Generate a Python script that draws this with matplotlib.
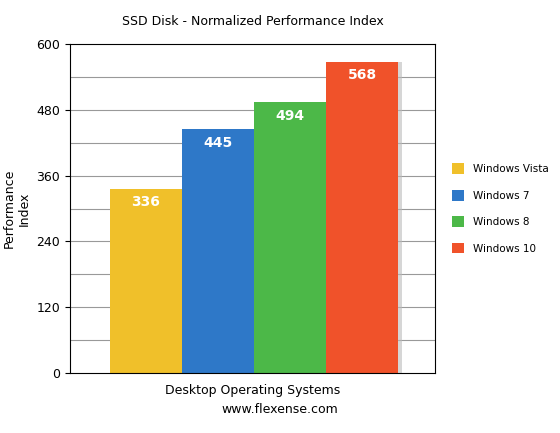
import matplotlib
matplotlib.use("Agg")
import matplotlib.pyplot as plt
from matplotlib.patches import Rectangle

systems = ["Windows Vista", "Windows 7", "Windows 8", "Windows 10"]
values = [336, 445, 494, 568]
colors = ["#F0C02A", "#2E78C8", "#4CB848", "#F0522A"]

fig = plt.figure(figsize=(5.6, 4.33), dpi=100)
ax = fig.add_axes([70/560, 1-373/433, 365/560, 329/433])
ax.set_ylim(0, 600)
ax.set_xlim(-0.5 - 40/72, 3.5 + 37/72)
for y in range(60, 600, 60):
    ax.axhline(y, color="#999999", lw=0.8, zorder=0)
for i, (v, c) in enumerate(zip(values, colors)):
    ax.bar(i + 0.06, v, width=1.0, color="#bbbbbb", alpha=0.6, zorder=1)
    ax.bar(i, v, width=1.0, color=c, label=systems[i], zorder=2)
    ax.text(i, v - 25, str(v), ha="center", va="center", color="white",
            fontweight="bold", fontsize=10, zorder=3)
ax.set_yticks(range(0, 601, 120))
ax.set_xticks([])
ax.tick_params(axis="y", labelsize=9)
ax.set_ylabel("Performance\nIndex", fontsize=9)
ax.set_xlabel("Desktop Operating Systems", fontsize=9, labelpad=8)
ax.set_title("SSD Disk - Normalized Performance Index", fontsize=9, pad=14)
for s in ax.spines.values():
    s.set_color("black")
ax.legend(loc="center left", bbox_to_anchor=(1.02, 0.5), frameon=False,
          fontsize=7.5, handlelength=1.2, handleheight=1.2, labelspacing=1.5)
fig.text(0.5, 20/433, "www.flexense.com", ha="center", fontsize=9)
fig.savefig("out.png", dpi=100)
